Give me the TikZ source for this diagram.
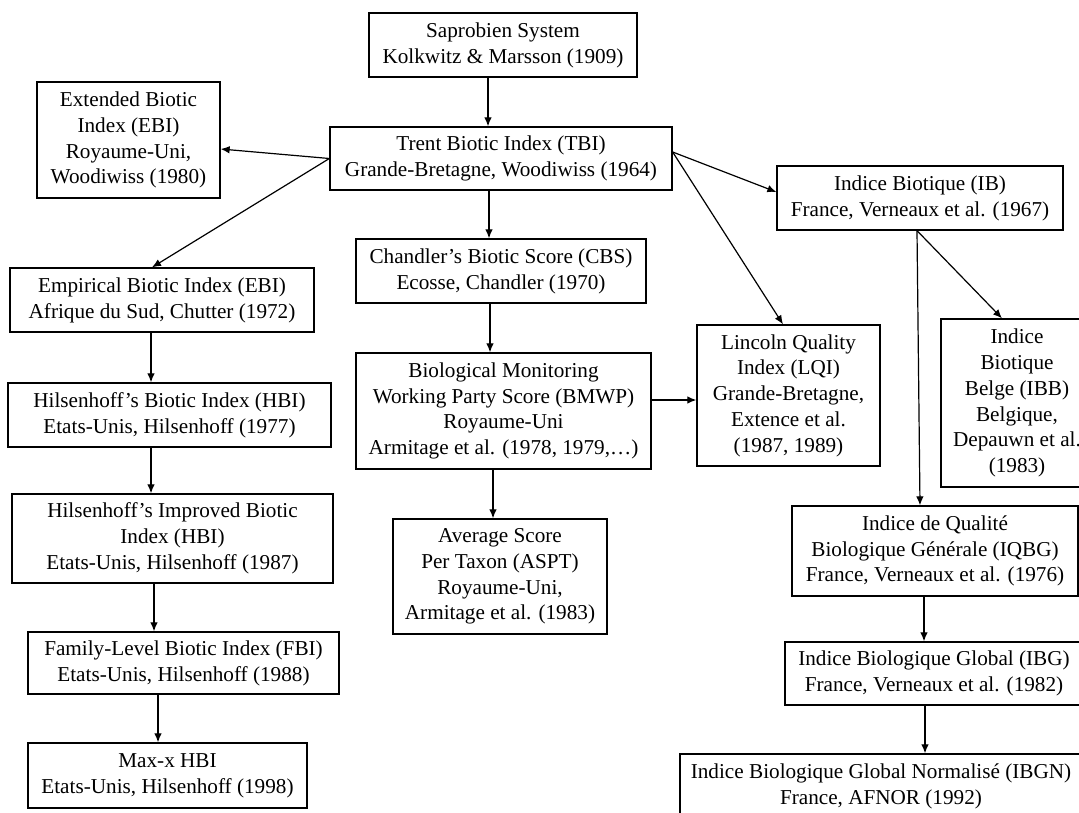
\documentclass[tikz,border=0pt]{standalone}
\usepackage{fontspec}
\setmainfont{Liberation Serif}
\usetikzlibrary{arrows.meta}
\tikzset{
  box/.style={draw=black, line width=1.3pt, fill=white, align=center, inner sep=0pt,
    font=\fontsize{21.2}{25.8}\selectfont},
  arr/.style={draw=black, line width=1.2pt, -{Latex[length=9pt,width=7.5pt]}}
}
\begin{document}
\begin{tikzpicture}[x=1pt,y=-1pt]
\useasboundingbox (0,0) rectangle (1079,812);
\clip (0,0) rectangle (1079,812);
\fill[white] (0,0) rectangle (1079,812);

\node[box, minimum width=268pt, minimum height=64pt] (sap) at (503,45) {Saprobien System\\Kolkwitz \& Marsson (1909)};
\node[box, minimum width=342pt, minimum height=63pt] (tbi) at (501,158.5) {Trent Biotic Index (TBI)\\Grande-Bretagne, Woodiwiss (1964)};
\node[box, minimum width=183pt, minimum height=116pt] (ext) at (128.5,140) {Extended Biotic\\Index (EBI)\\Royaume-Uni,\\Woodiwiss (1980)};
\node[box, minimum width=286pt, minimum height=64pt] (ib) at (920,198) {Indice Biotique (IB)\\France, Verneaux et al. (1967)};
\node[box, minimum width=290pt, minimum height=64pt] (cbs) at (501,271) {Chandler's Biotic Score (CBS)\\Ecosse, Chandler (1970)};
\node[box, minimum width=304pt, minimum height=64pt] (emp) at (162,300) {Empirical Biotic Index (EBI)\\Afrique du Sud, Chutter (1972)};
\node[box, minimum width=323pt, minimum height=64pt] (hbi) at (169.5,415) {Hilsenhoff's Biotic Index (HBI)\\Etats-Unis, Hilsenhoff (1977)};
\node[box, minimum width=321pt, minimum height=89pt] (hbii) at (172.5,538.5) {Hilsenhoff's Improved Biotic\\Index (HBI)\\Etats-Unis, Hilsenhoff (1987)};
\node[box, minimum width=311pt, minimum height=62pt] (fbi) at (183.5,663) {Family-Level Biotic Index (FBI)\\Etats-Unis, Hilsenhoff (1988)};
\node[box, minimum width=279pt, minimum height=65pt] (maxx) at (167.5,775.5) {Max-x HBI\\Etats-Unis, Hilsenhoff (1998)};
\node[box, minimum width=295pt, minimum height=116pt] (bmwp) at (503.5,411) {Biological Monitoring\\Working Party Score (BMWP)\\Royaume-Uni\\Armitage et al. (1978, 1979,\dots)};
\node[box, minimum width=214pt, minimum height=115pt] (aspt) at (500,576.5) {Average Score\\Per Taxon (ASPT)\\Royaume-Uni,\\Armitage et al. (1983)};
\node[box, minimum width=183pt, minimum height=141pt] (lqi) at (788.5,395.5) {Lincoln Quality\\Index (LQI)\\Grande-Bretagne,\\Extence et al.\\(1987, 1989)};
\node[box, minimum width=152pt, minimum height=168pt] (ibb) at (1017,403) {Indice\\Biotique\\Belge (IBB)\\Belgique,\\Depauwn et al.\\(1983)};
\node[box, minimum width=286pt, minimum height=90pt] (iqbg) at (935,551) {Indice de Qualité\\Biologique Générale (IQBG)\\France, Verneaux et al. (1976)};
\node[box, minimum width=298pt, minimum height=63pt] (ibg) at (934,673.5) {Indice Biologique Global (IBG)\\France, Verneaux et al. (1982)};
\node[box, minimum width=402pt, minimum height=64pt] (ibgn) at (881,786) {Indice Biologique Global Normalisé (IBGN)\\France, AFNOR (1992)};

\draw[arr] ([xshift=-15pt]sap.south) -- ([xshift=-13pt]tbi.north);
\draw[arr] (tbi.west) -- ([yshift=-9pt]ext.east);
\draw[arr] (tbi.west) -- ([xshift=-10pt]emp.north);
\draw[arr] ([xshift=-12pt]tbi.south) -- ([xshift=-12pt]cbs.north);
\draw[arr] ([yshift=6.5pt]tbi.east) -- ([yshift=6pt]ib.west);
\draw[arr] ([yshift=6.5pt]tbi.east) -- ([xshift=-5.5pt]lqi.north);
\draw[arr] ([xshift=-11pt]cbs.south) -- ([xshift=-13.5pt]bmwp.north);
\draw[arr] ([yshift=11pt]bmwp.east) -- ([yshift=-4.5pt]lqi.west);
\draw[arr] ([xshift=-10.5pt]bmwp.south) -- ([xshift=-7pt]aspt.north);
\draw[arr] ([xshift=-11pt]emp.south) -- ([xshift=-18.5pt]hbi.north);
\draw[arr] ([xshift=-18.5pt]hbi.south) -- ([xshift=-21.5pt]hbii.north);
\draw[arr] ([xshift=-18.5pt]hbii.south) -- ([xshift=-29.5pt]fbi.north);
\draw[arr] ([xshift=-25.5pt]fbi.south) -- ([xshift=-9.5pt]maxx.north);
\draw[arr] ([xshift=-3pt]ib.south) -- ([xshift=-15pt]ibb.north);
\draw[arr] ([xshift=-3pt]ib.south) -- ([xshift=-15pt]iqbg.north);
\draw[arr] ([xshift=-11pt]iqbg.south) -- ([xshift=-10pt]ibg.north);
\draw[arr] ([xshift=-9pt]ibg.south) -- ([xshift=44pt]ibgn.north);
\end{tikzpicture}
\end{document}
